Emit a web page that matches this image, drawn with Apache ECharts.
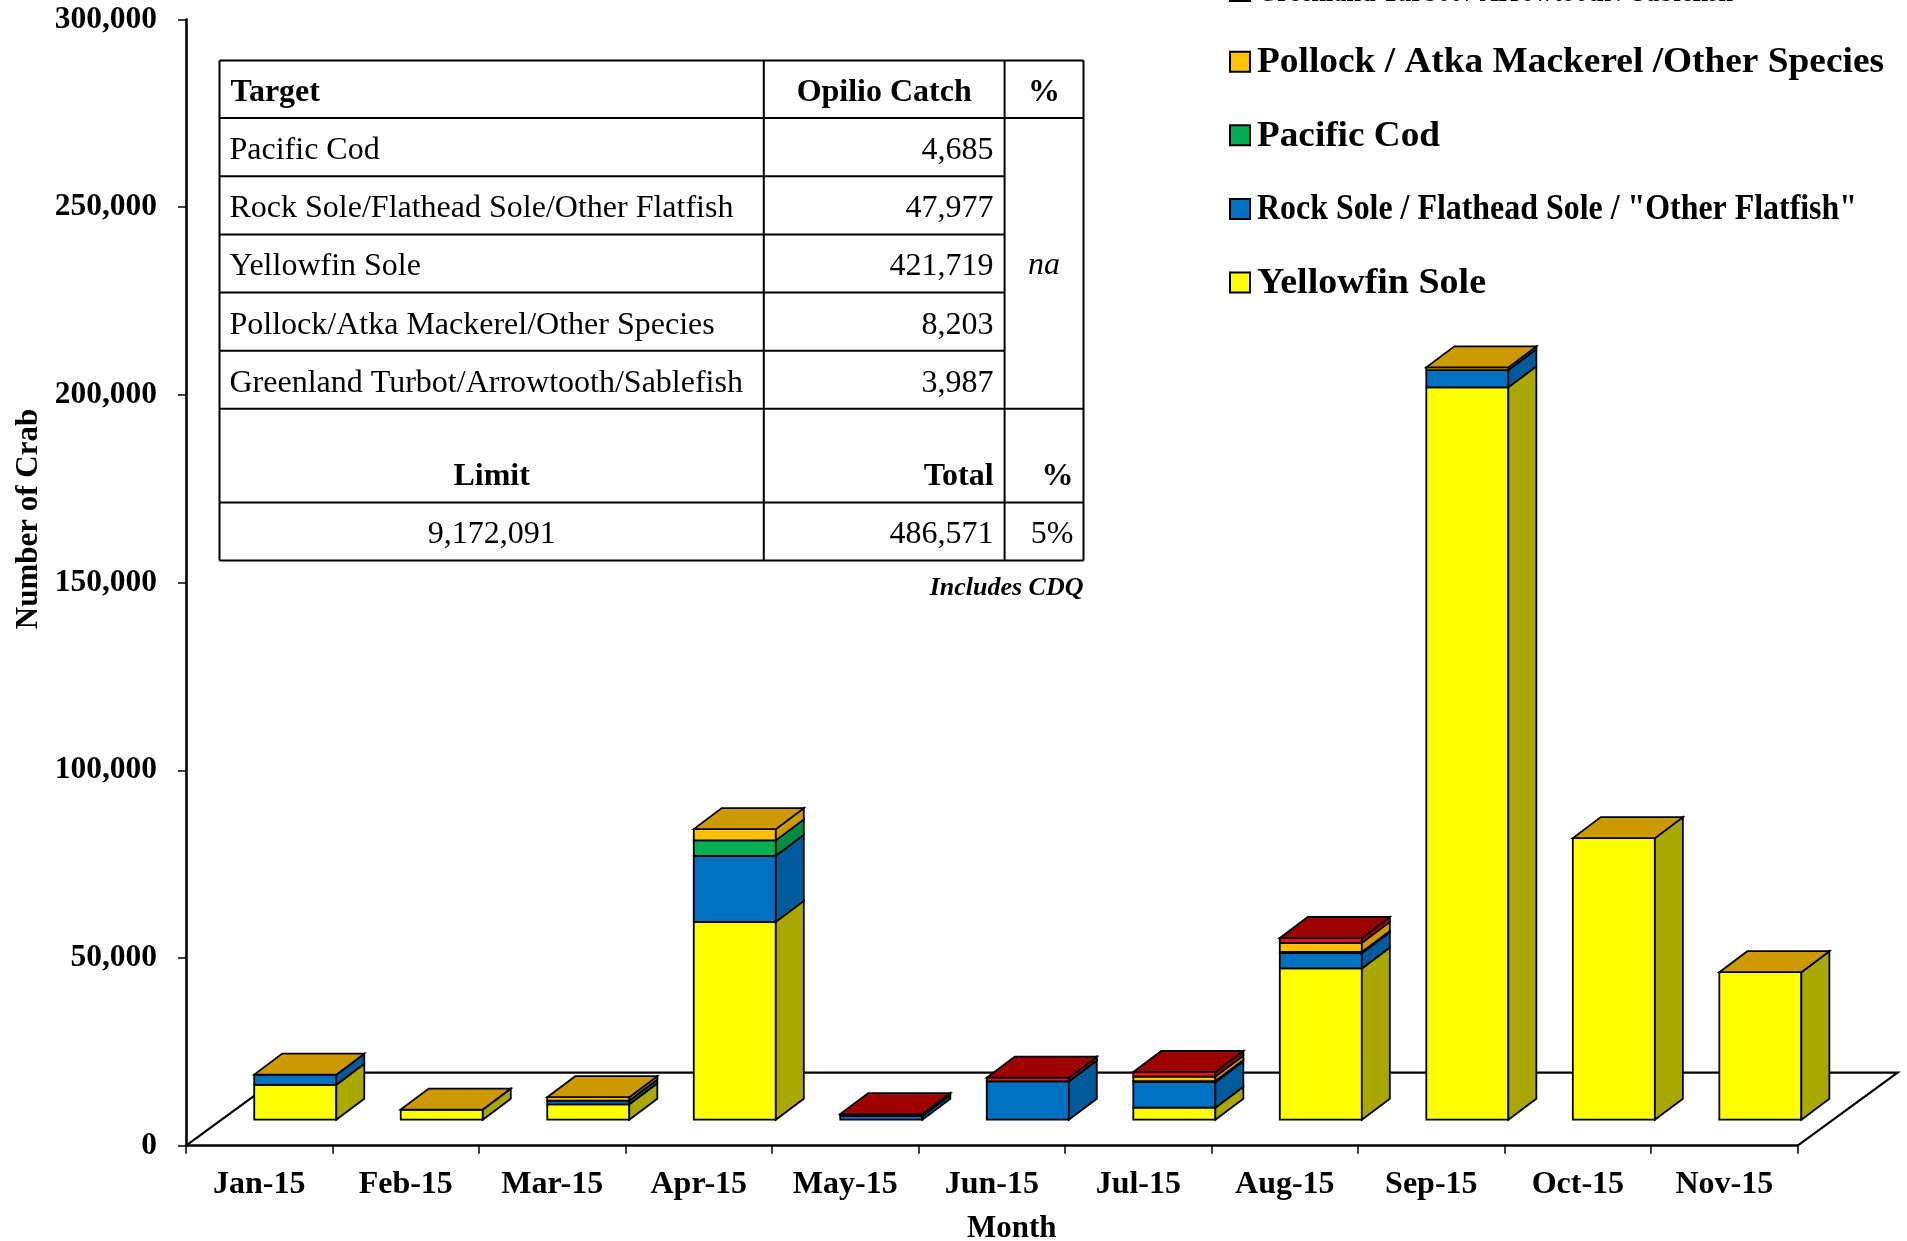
<!DOCTYPE html>
<html>
<head>
<meta charset="utf-8">
<title>Opilio Crab Bycatch by Month, 2015</title>
<script src="https://cdn.jsdelivr.net/npm/echarts@6/dist/echarts.min.js"></script>
<style>
  html, body { margin: 0; padding: 0; background: #fff; overflow: hidden; }
  #chart { width: 1907px; height: 1241px; }
</style>
</head>
<body>
<div id="chart"></div>
<script>
// ---- data ----
const months = ['Jan-15', 'Feb-15', 'Mar-15', 'Apr-15', 'May-15', 'Jun-15', 'Jul-15', 'Aug-15', 'Sep-15', 'Oct-15', 'Nov-15'];

// crab counts per target fishery, stacked bottom to top (null = no catch recorded)
const yellowfinSole    = [9300, 2700, 4100, 52700, null, null, 3200, 40300, 195100, 75000, 39300];
const rockSoleFlatfish = [2700, null, 1000, 17600, 1000, 10200, 6800, 4100, 4600, null, null];
const pacificCod       = [null, null, null, 4100, null, null, 300, 300, null, null, null];
const pollockAtka      = [0, 0, 900, 3000, null, null, 1200, 2400, 700, 0, 0];
const greenlandTurbot  = [null, null, null, null, 500, 1000, 1200, 1300, null, null, null];

const yTicks = [0, 50000, 100000, 150000, 200000, 250000, 300000];

// summary table
const tableTargets = ['Pacific Cod', 'Rock Sole/Flathead Sole/Other Flatfish', 'Yellowfin Sole',
                      'Pollock/Atka Mackerel/Other Species', 'Greenland Turbot/Arrowtooth/Sablefish'];
const tableCatch = [4685, 47977, 421719, 8203, 3987];
const catchLimit = 9172091;

// ---- styling ----
const SERIF = '"Liberation Serif", "Times New Roman", Times, serif';
const fmt = v => v.toLocaleString('en-US');

// legendWidth: printed width of each legend caption
const groups = [
  { name: 'Yellowfin Sole', values: yellowfinSole, front: '#FFFF00', side: '#A9A800', top: '#CCCC00', legendWidth: 229 },
  { name: 'Rock Sole / Flathead Sole / "Other Flatfish"', values: rockSoleFlatfish, front: '#0070C0', side: '#005A9C', top: '#005A9C', legendWidth: 600 },
  { name: 'Pacific Cod', values: pacificCod, front: '#00B050', side: '#008C40', top: '#008C40', legendWidth: 183 },
  { name: 'Pollock / Atka Mackerel /Other Species', values: pollockAtka, front: '#FFC000', side: '#CC9A00', top: '#CC9A00', legendWidth: 627 },
  { name: 'Greenland Turbot / Arrowtooth / Sablefish', values: greenlandTurbot, front: '#E81010', side: '#A00000', top: '#A00000', legendWidth: 476 }
];

// oblique projection used for the pseudo-3D columns and floor
const BAR_SHIFT_X = 36, BAR_SHIFT_Y = -26;   // columns sit part-way back on the floor
const DEPTH_X = 28, DEPTH_Y = -21;           // column depth
const FLOOR_X = 100, FLOOR_Y = -73;          // floor depth
const BAR_RATIO = 0.56;

// stack the groups month by month
const cum = months.map(() => 0);
const topIdx = months.map((_, i) => {
  let t = -1;
  groups.forEach((g, k) => { if (g.values[i] != null) t = k; });
  return t;
});
const stackedData = groups.map((g, k) => {
  const rows = [];
  g.values.forEach((v, i) => {
    if (v == null) return;
    const base = cum[i];
    cum[i] += v;
    rows.push([i, base, cum[i], topIdx[i] === k ? 1 : 0]);
  });
  return rows;
});

function makeColumnRenderer(g) {
  return function (params, api) {
    const i = api.value(0), lo = api.value(1), hi = api.value(2), isTop = api.value(3);
    const pLo = api.coord([i, lo]);
    const pHi = api.coord([i, hi]);
    const band = api.size([1, 0])[0];
    const w = band * BAR_RATIO;
    const xl = pLo[0] - w / 2 + BAR_SHIFT_X, xr = xl + w;
    const yb = pLo[1] + BAR_SHIFT_Y, yt = pHi[1] + BAR_SHIFT_Y;
    const stroke = { stroke: '#000', lineWidth: 1.8, lineJoin: 'miter' };
    const children = [
      { type: 'polygon', shape: { points: [[xl, yb], [xr, yb], [xr, yt], [xl, yt]] },
        style: Object.assign({ fill: g.front }, stroke) },
      { type: 'polygon', shape: { points: [[xr, yb], [xr + DEPTH_X, yb + DEPTH_Y], [xr + DEPTH_X, yt + DEPTH_Y], [xr, yt]] },
        style: Object.assign({ fill: g.side }, stroke) }
    ];
    if (isTop) {
      children.push({ type: 'polygon',
        shape: { points: [[xl, yt], [xl + DEPTH_X, yt + DEPTH_Y], [xr + DEPTH_X, yt + DEPTH_Y], [xr, yt]] },
        style: Object.assign({ fill: g.top }, stroke) });
    }
    return { type: 'group', children };
  };
}

function renderFloor(params) {
  const cs = params.coordSys;
  const x0 = cs.x, x1 = cs.x + cs.width, y0 = cs.y + cs.height;
  return {
    type: 'polyline',
    shape: { points: [[x0, y0], [x0 + FLOOR_X, y0 + FLOOR_Y], [x1 + FLOOR_X, y0 + FLOOR_Y], [x1, y0]] },
    style: { stroke: '#000', lineWidth: 2.2, fill: null }
  };
}

// ---- text helpers ----
const measureCtx = document.createElement('canvas').getContext('2d');
function textWidth(str, font) {
  measureCtx.font = font;
  return measureCtx.measureText(str).width;
}
function textEl(t, x, y, align, font, extra) {
  return Object.assign({ type: 'text', x: x, y: y,
    style: { text: t, font: font, fill: '#000', align: align, textAlign: align,
             verticalAlign: 'middle', textVerticalAlign: 'middle' } }, extra || {});
}

// ---- legend (series keys, top group first; the first row runs off the top edge) ----
function buildLegend() {
  const els = [];
  const font = 'bold 36px ' + SERIF;
  const rowCenters = [-9, 61.7, 135.3, 209, 282.6];
  groups.slice().reverse().forEach((g, k) => {
    const cy = rowCenters[k];
    els.push({ type: 'rect', shape: { x: 1230, y: cy - 10, width: 20, height: 20 },
      style: { fill: g.front, stroke: '#000', lineWidth: 2 } });
    const sx = g.legendWidth / textWidth(g.name, font);
    els.push(textEl(g.name, 1257, cy + 1, 'left', font, { scaleX: sx, scaleY: 1 }));
  });
  return els;
}

// ---- summary table ----
function buildTable() {
  const L = 219.5, R = 1083.5, C1 = 763.8, C2 = 1004.6;
  const rows = [60.5, 118, 176.2, 234.4, 292.6, 350.8, 408.8, 502.5, 560.5];
  const els = [];
  const line = (x1, y1, x2, y2) => els.push({ type: 'line', shape: { x1, y1, x2, y2 },
    style: { stroke: '#000', lineWidth: 2 } });
  const text = (t, x, y, align, font) => els.push(textEl(t, x, y, align, font));
  const REG = '32px ' + SERIF, BOLD = 'bold 32px ' + SERIF, ITAL = 'italic 32px ' + SERIF;

  // frame and rules
  line(L, rows[0], R, rows[0]);
  line(L, rows[8], R, rows[8]);
  line(L, rows[0], L, rows[8]);
  line(R, rows[0], R, rows[8]);
  line(C1, rows[0], C1, rows[8]);
  line(C2, rows[0], C2, rows[8]);
  line(L, rows[1], R, rows[1]);
  for (let r = 2; r <= 5; r++) line(L, rows[r], C2, rows[r]);
  line(L, rows[6], R, rows[6]);
  line(L, rows[7], R, rows[7]);

  const mid = r => (rows[r] + rows[r + 1]) / 2 + 3.5;
  text('Target', L + 11, mid(0), 'left', BOLD);
  text('Opilio Catch', (C1 + C2) / 2, mid(0), 'center', BOLD);
  text('%', (C2 + R) / 2, mid(0), 'center', BOLD);
  tableTargets.forEach((t, k) => {
    text(t, L + 10, mid(k + 1), 'left', REG);
    text(fmt(tableCatch[k]), C2 - 11, mid(k + 1), 'right', REG);
  });
  text('na', (C2 + R) / 2, (rows[1] + rows[6]) / 2 + 2, 'center', ITAL);

  const total = tableCatch.reduce((a, b) => a + b, 0);
  const pct = Math.round(total / catchLimit * 100) + '%';
  const yLim = rows[7] - 26;
  text('Limit', (L + C1) / 2, yLim, 'center', BOLD);
  text('Total', C2 - 11, yLim, 'right', BOLD);
  text('%', R - 10, yLim, 'right', BOLD);
  text(fmt(catchLimit), (L + C1) / 2, mid(7), 'center', REG);
  text(fmt(total), C2 - 11, mid(7), 'right', REG);
  text(pct, R - 10, mid(7), 'right', REG);
  text('Includes CDQ', R, rows[8] + 28, 'right', 'italic bold 26px ' + SERIF);
  return els;
}

const chart = echarts.init(document.getElementById('chart'), null, { renderer: 'canvas' });

const series = [{
  type: 'custom',
  name: 'floor',
  silent: true,
  clip: false,
  z: 1,
  data: [[0, 0]],
  encode: { x: 0, y: 1 },
  renderItem: renderFloor
}].concat(groups.map((g, k) => ({
  type: 'custom',
  name: g.name,
  z: 2,
  clip: false,
  itemStyle: { color: g.front },
  data: stackedData[k],
  encode: { x: 0, y: [1, 2] },
  renderItem: makeColumnRenderer(g)
})));

chart.setOption({
  animation: false,
  backgroundColor: '#fff',
  textStyle: { fontFamily: SERIF },
  grid: { left: 186, right: 109.4, top: 19.5, bottom: 95.3, containLabel: false, outerBoundsMode: 'none' },
  xAxis: {
    type: 'category',
    data: months,
    boundaryGap: true,
    name: 'Month',
    nameLocation: 'middle',
    nameGap: 68,
    nameTextStyle: { fontFamily: SERIF, fontWeight: 'bold', fontSize: 31, color: '#000', padding: [0, 0, 0, 40] },
    axisLine: { show: true, lineStyle: { color: '#000', width: 2.6 } },
    axisTick: { show: true, alignWithLabel: false, length: 8, lineStyle: { color: '#000', width: 1.5 } },
    axisLabel: { margin: 23, fontFamily: SERIF, fontWeight: 'bold', fontSize: 32, color: '#000', interval: 0 },
    splitLine: { show: false }
  },
  yAxis: {
    type: 'value',
    min: yTicks[0],
    max: yTicks[yTicks.length - 1],
    interval: yTicks[1] - yTicks[0],
    axisLine: { show: true, lineStyle: { color: '#000', width: 2.6 } },
    axisTick: { show: true, length: 8, lineStyle: { color: '#000', width: 1.5 } },
    axisLabel: { margin: 29, fontFamily: SERIF, fontWeight: 'bold', fontSize: 31.5, color: '#000', formatter: fmt },
    splitLine: { show: false }
  },
  graphic: buildTable().concat(buildLegend(), [
    textEl('Number of Crab', 29, 519, 'center', 'bold 31px ' + SERIF, { rotation: Math.PI / 2 })
  ]),
  series: series
});
</script>
</body>
</html>
